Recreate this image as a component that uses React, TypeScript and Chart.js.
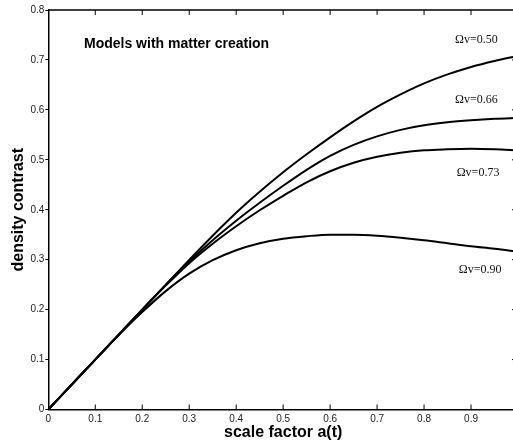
import { useEffect, useRef } from "react";
import { Chart, registerables } from "chart.js";

Chart.register(...registerables);

// scale factor a(t)
const scaleFactor = [0, 0.05, 0.1, 0.15, 0.2, 0.25, 0.3, 0.35, 0.4, 0.45, 0.5, 0.55, 0.6, 0.65, 0.7, 0.75, 0.8, 0.85, 0.9, 0.95, 1.0];
// density contrast for each Ωv
const omega050 = [0, 0.05, 0.1, 0.15, 0.2, 0.25, 0.2995, 0.348, 0.394, 0.436, 0.475, 0.511, 0.545, 0.577, 0.606, 0.631, 0.653, 0.671, 0.686, 0.698, 0.708];
const omega066 = [0, 0.05, 0.1, 0.15, 0.2, 0.249, 0.296, 0.339, 0.378, 0.414, 0.448, 0.48, 0.508, 0.53, 0.547, 0.56, 0.569, 0.575, 0.579, 0.582, 0.584];
const omega073 = [0, 0.05, 0.1, 0.15, 0.2, 0.248, 0.293, 0.332, 0.367, 0.399, 0.428, 0.455, 0.477, 0.494, 0.506, 0.514, 0.519, 0.521, 0.522, 0.521, 0.519];
const omega090 = [0, 0.05, 0.1, 0.149, 0.195, 0.237, 0.272, 0.299, 0.319, 0.333, 0.342, 0.347, 0.35, 0.35, 0.348, 0.344, 0.339, 0.333, 0.327, 0.322, 0.316];

const curveLabels = ["Ωv=0.50", "Ωv=0.66", "Ωv=0.73", "Ωv=0.90"];
// label anchors in data coordinates (left edge, vertical middle)
const labelAtX = [0.866, 0.866, 0.8695, 0.874];
const labelAtY = [0.74, 0.62, 0.474, 0.279];

const panelTitle = "Models with matter creation";
const panelTitleX = 0.076;
const panelTitleY = 0.731;

const xAxisTitle = "scale factor a(t)";
const yAxisTitle = "density contrast";

const innerXTicks = [0.1, 0.2, 0.3, 0.4, 0.5, 0.6, 0.7, 0.8, 0.9];
const innerYTicks = [0.1, 0.2, 0.3, 0.4, 0.5, 0.6, 0.7];

const SANS = "'Liberation Sans', Arial, Helvetica, sans-serif";
const SERIF = "'Liberation Serif', 'Times New Roman', serif";

const tickText = (v: any) => {
  const n = Number(v);
  if (n === 0) return "0";
  if (n >= 0.999 && n <= 1.001) return "";
  return n.toFixed(1);
};

export default function App() {
  const ref = useRef<HTMLCanvasElement | null>(null);

  useEffect(() => {
    if (!ref.current) return;
    const series = [omega050, omega066, omega073, omega090];

    const overlay = {
      id: "overlay",
      afterDatasetsDraw(chart: any) {
        const { ctx, chartArea: ca, scales } = chart;
        const xs = scales.x;
        const ys = scales.y;
        ctx.save();
        ctx.strokeStyle = "#000";
        ctx.lineWidth = 1.5;
        ctx.beginPath();
        ctx.moveTo(ca.left, ca.top);
        ctx.lineTo(ca.right, ca.top);
        ctx.lineTo(ca.right, ca.bottom);
        ctx.stroke();

        ctx.lineWidth = 1;
        ctx.beginPath();
        for (const t of innerXTicks) {
          const px = xs.getPixelForValue(t);
          ctx.moveTo(px, ca.bottom);
          ctx.lineTo(px, ca.bottom - 5);
          ctx.moveTo(px, ca.top);
          ctx.lineTo(px, ca.top + 5);
        }
        for (const t of innerYTicks) {
          const py = ys.getPixelForValue(t);
          ctx.moveTo(ca.right, py);
          ctx.lineTo(ca.right - 6, py);
        }
        ctx.stroke();

        ctx.fillStyle = "#000";
        ctx.textAlign = "left";
        ctx.textBaseline = "middle";
        ctx.font = `bold 14px ${SANS}`;
        ctx.fillText(panelTitle, xs.getPixelForValue(panelTitleX), ys.getPixelForValue(panelTitleY));

        ctx.font = `12px ${SERIF}`;
        ctx.fillStyle = "#111";
        curveLabels.forEach((txt, i) => {
          ctx.fillText(txt, xs.getPixelForValue(labelAtX[i]), ys.getPixelForValue(labelAtY[i]));
        });
        ctx.restore();
      },
    };

    const chart = new Chart(ref.current, {
      type: "line",
      data: {
        datasets: series.map((vals, i) => ({
          label: curveLabels[i],
          data: scaleFactor.map((a, j) => ({ x: a, y: vals[j] })),
          borderColor: "#000",
          borderWidth: 2,
          pointRadius: 0,
          fill: false,
          cubicInterpolationMode: "monotone" as const,
        })),
      },
      options: {
        animation: false,
        responsive: true,
        maintainAspectRatio: false,
        layout: { padding: { left: 0, top: 10, right: 12, bottom: 0 } },
        plugins: {
          legend: { display: false },
          tooltip: { enabled: false },
        },
        scales: {
          x: {
            type: "linear",
            min: 0,
            max: 1,
            afterFit(scale: any) {
              scale.height = 31.5;
            },
            grid: { display: false, drawTicks: false },
            border: { display: true, color: "#000", width: 1.5 },
            ticks: {
              stepSize: 0.1,
              autoSkip: false,
              maxRotation: 0,
              padding: 4,
              color: "#222",
              font: { family: SANS, size: 10 },
              callback: tickText,
            },
            title: {
              display: true,
              text: xAxisTitle,
              color: "#000",
              font: { family: SANS, size: 16, weight: "bold", lineHeight: 1 },
              padding: { top: 0, bottom: 0 },
            },
          },
          y: {
            type: "linear",
            min: 0,
            max: 0.8,
            afterFit(scale: any) {
              scale.width = 48.3;
            },
            grid: {
              display: true,
              drawOnChartArea: false,
              drawTicks: true,
              tickLength: 3,
              color: "#000",
              lineWidth: 1,
            },
            border: { display: true, color: "#000", width: 1.5 },
            ticks: {
              stepSize: 0.1,
              autoSkip: false,
              padding: 1,
              color: "#222",
              font: { family: SANS, size: 10 },
              callback: tickText,
            },
            title: {
              display: true,
              text: yAxisTitle,
              color: "#000",
              font: { family: SANS, size: 16, weight: "bold", lineHeight: 1 },
              padding: { top: 10.5, bottom: 0 },
            },
          },
        },
      },
      plugins: [overlay],
    });

    return () => chart.destroy();
  }, []);

  return (
    <div
      style={{
        position: "fixed",
        left: 0,
        top: 0,
        width: 513,
        height: 441,
        overflow: "hidden",
        background: "#fff",
      }}
    >
      <div style={{ position: "relative", width: 530, height: 441 }}>
        <canvas ref={ref} />
      </div>
    </div>
  );
}
